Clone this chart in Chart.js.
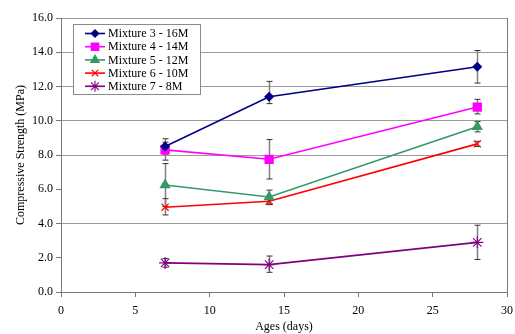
<!DOCTYPE html>
<html>
<head>
<meta charset="utf-8">
<script src="https://cdn.jsdelivr.net/npm/chart.js@4.4.0/dist/chart.umd.min.js"></script>
<style>
  body { margin: 0; background: #fff; }
  #wrap { width: 515px; height: 334px; }
</style>
</head>
<body>
<div id="wrap"><canvas id="resistencia"></canvas></div>
<script>
// Idades (dias)
var ages = [7, 14, 28];

var nomes = ['Mixture 3 - 16M', 'Mixture 4 - 14M', 'Mixture 5 - 12M', 'Mixture 6 - 10M', 'Mixture 7 - 8M'];

var mix3 = [8.5, 11.4, 13.15];
var mix4 = [8.3, 7.75, 10.8];
var mix5 = [6.25, 5.55, 9.65];
var mix6 = [4.95, 5.3, 8.65];
var mix7 = [1.7, 1.6, 2.9];

// extremos das barras de erro (topo / base)
var mix3Top = [8.95, 12.3, 14.1];
var mix3Low = [8.05, 11.0, 12.2];
var mix4Top = [8.75, 8.9, 11.25];
var mix4Low = [7.7, 6.6, 10.4];
var mix5Top = [7.5, 5.95, 9.95];
var mix5Low = [5.0, 5.15, 9.35];
var mix6Top = [5.45, 5.5, 8.8];
var mix6Low = [4.5, 5.1, 8.5];
var mix7Top = [1.95, 2.1, 3.9];
var mix7Low = [1.45, 1.15, 1.9];

var yTicks = [0, 2, 4, 6, 8, 10, 12, 14, 16];
var xTicks = [0, 5, 10, 15, 20, 25, 30];

var fonte = 'Liberation Serif';

function pontos(valores) {
  return ages.map(function (a, i) { return { x: a, y: valores[i] }; });
}

function serie(i, valores, top, low, cor, estilo, raio, borda) {
  return {
    label: nomes[i],
    data: pontos(valores),
    errTop: top,
    errLow: low,
    borderColor: cor,
    backgroundColor: cor,
    pointBackgroundColor: cor,
    pointBorderColor: cor,
    pointStyle: estilo,
    pointRadius: raio,
    pointBorderWidth: borda,
    borderWidth: 1.6,
    tension: 0,
    fill: false
  };
}

var datasets = [
  serie(0, mix3, mix3Top, mix3Low, '#000080', 'rectRot', 4, 1.5),
  serie(1, mix4, mix4Top, mix4Low, '#FF00FF', 'rect', 5.5, 1.5),
  serie(2, mix5, mix5Top, mix5Low, '#339966', 'triangle', 5, 1.5),
  serie(3, mix6, mix6Top, mix6Low, '#FF0000', 'crossRot', 5, 1.2),
  serie(4, mix7, mix7Top, mix7Low, '#800080', 'star', 6, 1.1)
];

// Barras de erro desenhadas por baixo das linhas
var barrasErro = {
  id: 'barrasErro',
  beforeDatasetsDraw: function (chart) {
    var ctx = chart.ctx;
    var sx = chart.scales.x, sy = chart.scales.y;
    ctx.save();
    chart.data.datasets.forEach(function (ds) {
      ds.data.forEach(function (p, j) {
        var px = Math.round(sx.getPixelForValue(p.x)) + 0.5;
        var yt = sy.getPixelForValue(ds.errTop[j]);
        var yb = sy.getPixelForValue(ds.errLow[j]);
        ctx.strokeStyle = '#808080';
        ctx.lineWidth = 1.5;
        ctx.beginPath();
        ctx.moveTo(px, yt);
        ctx.lineTo(px, yb);
        ctx.stroke();
        ctx.strokeStyle = '#333';
        ctx.lineWidth = 1;
        ctx.beginPath();
        ctx.moveTo(px - 3, yt); ctx.lineTo(px + 3, yt);
        ctx.moveTo(px - 3, yb); ctx.lineTo(px + 3, yb);
        ctx.stroke();
      });
    });
    ctx.restore();
  }
};

// Legenda dentro da área do gráfico, com caixa
var legendaBox = {
  id: 'legendaBox',
  afterDraw: function (chart) {
    var ctx = chart.ctx;
    var area = chart.chartArea;
    var x = area.left + 12, y = area.top + 6, w = 127, h = 70;
    ctx.save();
    ctx.fillStyle = '#fff';
    ctx.fillRect(x, y, w, h);
    ctx.strokeStyle = '#8a8a8a';
    ctx.lineWidth = 1;
    ctx.strokeRect(x + 0.5, y + 0.5, w, h);
    chart.data.datasets.forEach(function (ds, i) {
      var cy = y + 9.5 + i * 13.2;
      ctx.strokeStyle = ds.borderColor;
      ctx.lineWidth = 1.6;
      ctx.beginPath();
      ctx.moveTo(x + 12, cy);
      ctx.lineTo(x + 32, cy);
      ctx.stroke();
      ctx.fillStyle = ds.borderColor;
      ctx.lineWidth = ds.pointBorderWidth;
      Chart.helpers.drawPoint(ctx, { pointStyle: ds.pointStyle, radius: ds.pointRadius - 0.5, borderWidth: ds.pointBorderWidth }, x + 22, cy);
      ctx.fillStyle = '#000';
      ctx.font = '12px "' + fonte + '"';
      ctx.textBaseline = 'middle';
      ctx.textAlign = 'left';
      ctx.fillText(ds.label, x + 35, cy + 0.5);
    });
    ctx.restore();
  }
};

var ctx = document.getElementById('resistencia').getContext('2d');

var grafico = new Chart(ctx, {
  type: 'line',
  data: { datasets: datasets },
  plugins: [barrasErro, legendaBox],
  options: {
    responsive: true,
    maintainAspectRatio: false,
    animation: false,
    layout: { padding: { top: 18, right: 8, left: 0, bottom: 0 } },
    plugins: {
      legend: { display: false },
      tooltip: { enabled: false }
    },
    scales: {
      x: {
        type: 'linear',
        min: 0,
        max: 30,
        afterBuildTicks: function (scale) {
          scale.ticks = xTicks.map(function (v) { return { value: v }; });
        },
        afterFit: function (scale) {
          scale.height = 42;
          scale.paddingLeft = 0;
          scale.paddingRight = 0;
        },
        border: { color: '#777', width: 1 },
        grid: {
          color: function (c) { return c.tick && c.tick.value === 30 ? '#777' : 'rgba(0,0,0,0)'; },
          tickColor: '#777',
          tickLength: 5,
          drawOnChartArea: true
        },
        ticks: {
          color: '#000',
          padding: 7,
          maxRotation: 0,
          font: { family: fonte, size: 12 }
        },
        title: {
          display: true,
          text: 'Ages (days)',
          color: '#000',
          padding: { top: 0, bottom: 0 },
          font: { family: fonte, size: 12 }
        }
      },
      y: {
        min: 0,
        max: 16,
        afterBuildTicks: function (scale) {
          scale.ticks = yTicks.map(function (v) { return { value: v }; });
        },
        afterFit: function (scale) { scale.width = 61; },
        border: { color: '#777', width: 1 },
        grid: {
          // as linhas de 6.0 e 2.0 não aparecem na figura original
          color: function (c) {
            var v = c.tick ? c.tick.value : null;
            return (v === 6 || v === 2) ? 'rgba(0,0,0,0)' : '#9a9a9a';
          },
          tickColor: '#777',
          tickLength: 5
        },
        ticks: {
          color: '#000',
          padding: 3,
          font: { family: fonte, size: 12 },
          callback: function (v) { return Number(v).toFixed(1); }
        },
        title: {
          display: true,
          text: 'Compressive Strength (MPa)',
          color: '#000',
          padding: { top: 14, bottom: 0 },
          font: { family: fonte, size: 12 }
        }
      }
    }
  }
});
</script>
</body>
</html>
